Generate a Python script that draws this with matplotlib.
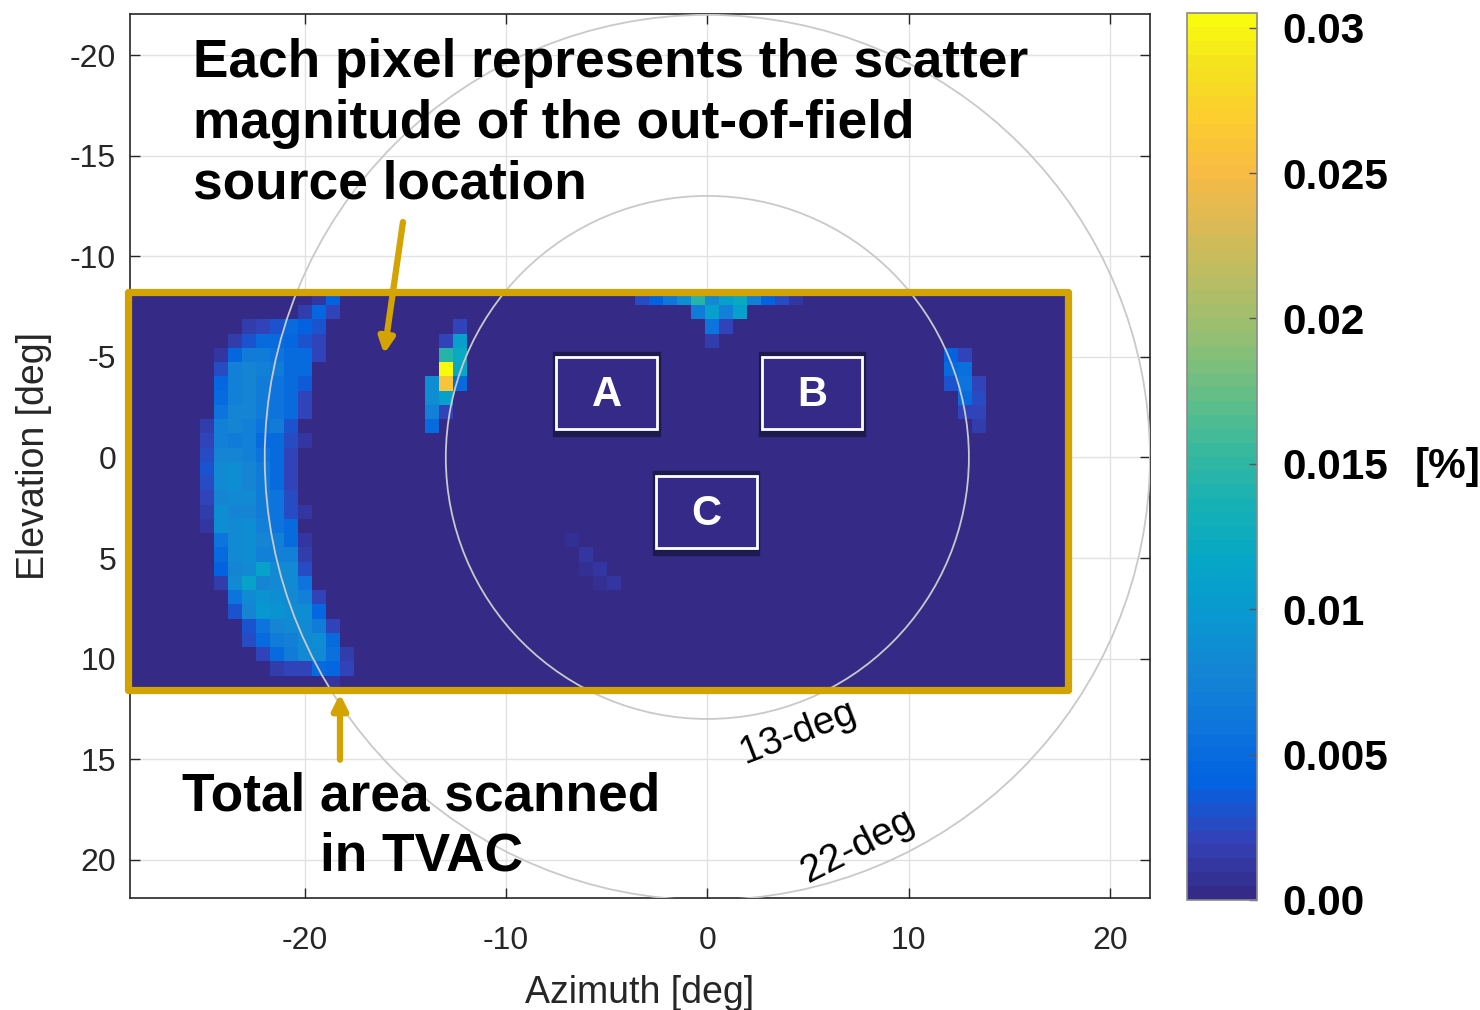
import numpy as np
import matplotlib.pyplot as plt
from matplotlib.colors import LinearSegmentedColormap
from matplotlib.patches import Rectangle, Circle

plt.rcParams['font.family'] = ['Liberation Sans', 'DejaVu Sans']
plt.rcParams['axes.unicode_minus'] = False

# scan grid: azimuth columns x elevation rows [deg]
n_cols, n_rows = 67, 28
az_lo, az_hi = -28.7, 18.0
el_lo, el_hi = -8.26, 11.54

# scatter patches: (row, first column, values [%])
crescent = [
    (0, 13, [0.001, 0.004]),
    (1, 12, [0.0015, 0.0045, 0.002]),
    (2, 8, [0.0015, 0.002, 0.003, 0.005, 0.004, 0.003]),
    (3, 7, [0.0015, 0.003, 0.005, 0.005, 0.0045, 0.003, 0.002]),
    (4, 6, [0.001, 0.0045, 0.007, 0.007, 0.006, 0.005, 0.005, 0.002]),
    (5, 6, [0.0025, 0.0075, 0.008, 0.0075, 0.007, 0.005, 0.005]),
    (6, 6, [0.0045, 0.0075, 0.008, 0.007, 0.006, 0.005, 0.0035]),
    (7, 6, [0.005, 0.0075, 0.008, 0.007, 0.006, 0.005, 0.002]),
    (8, 6, [0.006, 0.008, 0.008, 0.007, 0.006, 0.005, 0.002]),
    (9, 5, [0.0015, 0.0075, 0.008, 0.0075, 0.006, 0.007, 0.003]),
    (10, 5, [0.002, 0.0075, 0.007, 0.0075, 0.005, 0.005, 0.0025, 0.001]),
    (11, 5, [0.0025, 0.008, 0.008, 0.0075, 0.006, 0.005, 0.002]),
    (12, 5, [0.003, 0.0085, 0.009, 0.008, 0.007, 0.005, 0.002]),
    (13, 5, [0.0025, 0.0085, 0.009, 0.008, 0.007, 0.005, 0.002]),
    (14, 5, [0.002, 0.008, 0.0085, 0.0085, 0.007, 0.006, 0.0025]),
    (15, 5, [0.0015, 0.009, 0.008, 0.008, 0.007, 0.006, 0.0025, 0.001]),
    (16, 5, [0.001, 0.009, 0.0085, 0.009, 0.0075, 0.006, 0.005]),
    (17, 6, [0.006, 0.0085, 0.009, 0.008, 0.0075, 0.005, 0.001]),
    (18, 6, [0.005, 0.0085, 0.009, 0.0075, 0.0075, 0.0075, 0.0015]),
    (19, 6, [0.004, 0.008, 0.0085, 0.011, 0.0085, 0.0085, 0.0025]),
    (20, 6, [0.0015, 0.0085, 0.011, 0.008, 0.0085, 0.0085, 0.006]),
    (21, 7, [0.006, 0.0085, 0.0095, 0.009, 0.0085, 0.0075, 0.002]),
    (22, 7, [0.003, 0.008, 0.010, 0.0095, 0.009, 0.009, 0.0045]),
    (23, 8, [0.003, 0.006, 0.008, 0.0085, 0.0085, 0.007, 0.002]),
    (24, 8, [0.0025, 0.005, 0.007, 0.0075, 0.0085, 0.009, 0.005]),
    (25, 9, [0.002, 0.005, 0.007, 0.0085, 0.0085, 0.0055, 0.0015]),
    (26, 10, [0.0015, 0.002, 0.002, 0.005, 0.0045, 0.002]),
    (27, 14, [0.001]),
]
hot_spot = [
    (2, 23, [0.002]),
    (3, 22, [0.002, 0.0105]),
    (4, 22, [0.0145, 0.012]),
    (5, 22, [0.0305, 0.0115]),
    (6, 21, [0.009, 0.026, 0.005]),
    (7, 21, [0.009, 0.0105]),
    (8, 21, [0.0075, 0.002]),
    (9, 21, [0.005]),
]
top_patch = [
    (0, 36, [0.0025, 0.004, 0.0065, 0.009, 0.0145, 0.0085, 0.0105, 0.012, 0.0075, 0.004, 0.0025, 0.001]),
    (1, 40, [0.007, 0.0105, 0.0075, 0.0105]),
    (2, 41, [0.006, 0.002]),
    (3, 41, [0.0015]),
]
right_patch = [
    (4, 58, [0.004, 0.002]),
    (5, 58, [0.005, 0.0055]),
    (6, 58, [0.003, 0.006, 0.002]),
    (7, 59, [0.005, 0.0025]),
    (8, 59, [0.002, 0.0022]),
    (9, 60, [0.0015]),
]
streak = [
    (17, 31, [0.0008]),
    (18, 32, [0.001]),
    (19, 32, [0.0008, 0.001]),
    (20, 33, [0.0008, 0.001]),
]

cb_ticks = [0, 0.005, 0.01, 0.015, 0.02, 0.025, 0.03]
cb_labels = ['0.00', '0.005', '0.01', '0.015', '0.02', '0.025', '0.03']
ticks = [-20, -15, -10, -5, 0, 5, 10, 15, 20]

# parula (MATLAB) sampled
parula_idx = [0, 4, 8, 12, 16, 20, 24, 28, 32, 36, 40, 44, 48, 52, 56, 60, 63]
parula_rgb = [
    (0.2081, 0.1663, 0.5292), (0.1959, 0.2645, 0.7279), (0.0117, 0.3875, 0.8820),
    (0.0498, 0.4586, 0.8641), (0.0793, 0.5200, 0.8312), (0.0343, 0.5966, 0.8199),
    (0.0228, 0.6535, 0.7768), (0.0843, 0.6928, 0.7062), (0.2178, 0.7250, 0.6193),
    (0.3953, 0.7459, 0.5244), (0.5709, 0.7485, 0.4494), (0.7184, 0.7411, 0.3905),
    (0.8507, 0.7299, 0.3360), (0.9739, 0.7314, 0.2666), (0.9880, 0.8066, 0.1794),
    (0.9589, 0.8949, 0.1132), (0.9763, 0.9831, 0.0538),
]
parula = LinearSegmentedColormap.from_list(
    'parula', [(i / 63, c) for i, c in zip(parula_idx, parula_rgb)], N=64)

scatter = np.zeros((n_rows, n_cols))
for patch in (crescent, hot_spot, top_patch, right_patch, streak):
    for row, col, vals in patch:
        scatter[row, col:col + len(vals)] = vals

gold = '#d3a300'
ink = '#262626'

fig = plt.figure(figsize=(14.8, 10.1), dpi=100)
ax = fig.add_axes([0.0878, 0.1109, 0.6892, 0.8752])

im = ax.imshow(scatter, cmap=parula, vmin=0, vmax=0.0305,
               extent=(az_lo, az_hi, el_hi, el_lo), interpolation='nearest',
               aspect='auto', zorder=1)

for r in (13, 22):
    ax.add_patch(Circle((0, 0), r, fill=False, ec='#c9c9c9', lw=1.3, zorder=3))

ax.add_patch(Rectangle((-28.8, -8.22), 46.75, 19.77, fill=False, ec=gold, lw=5.2,
                       joinstyle='round', clip_on=False, zorder=6))

# field boxes A, B, C
for name, x0, y0 in [('A', -7.5, -5.0), ('B', 2.7, -5.0), ('C', -2.55, 0.92)]:
    w, h = 5.0, 3.58
    ax.add_patch(Rectangle((x0 - 0.15, y0 - 0.25), w + 0.28, h + 0.6,
                           fc='#1d1a4d', ec='#1d1a4d', lw=1, zorder=4))
    ax.add_patch(Rectangle((x0, y0), w, h, fc='#352a87', ec='white', lw=2, zorder=5))
    ax.text(x0 + w / 2, y0 + h / 2 + 0.1, name, color='white', fontsize=30,
            fontweight='bold', ha='center', va='center', zorder=6)

ax.set_xlim(-28.7, 22.0)
ax.set_ylim(21.9, -22.04)
ax.set_xticks(ticks[::2])
ax.set_yticks(ticks)
ax.grid(True, color='#e2e2e2', lw=1)
ax.set_axisbelow(True)
ax.tick_params(direction='in', length=7, top=True, right=True, width=1,
               color=ink, labelcolor=ink, labelsize=23)
ax.tick_params(axis='x', pad=20)
ax.tick_params(axis='y', pad=10)
for s in ax.spines.values():
    s.set_color(ink)
    s.set_linewidth(1.2)
ax.set_xlabel('Azimuth [deg]', fontsize=27, color=ink, labelpad=14)
ax.set_ylabel('Elevation [deg]', fontsize=27, color=ink, labelpad=13)

ax.text(4.5, 13.69, '13-deg', fontsize=28, rotation=21, ha='center', va='center',
        color='black', zorder=7)
ax.text(7.48, 19.35, '22-deg', fontsize=28, rotation=27, ha='center', va='center',
        color='black', zorder=7)

ax.text(-25.57, -20.85, 'Each pixel represents the scatter\nmagnitude of the out-of-field\nsource location',
        fontsize=38.3, fontweight='bold', ha='left', va='top', linespacing=1.27,
        zorder=7, clip_on=False)
ax.text(-14.22, 15.6, 'Total area scanned\nin TVAC', fontsize=38.3, fontweight='bold',
        ha='center', va='top', multialignment='center', linespacing=1.27, zorder=7)

arrow = dict(arrowstyle='-|>,head_length=0.9,head_width=0.45', lw=4.5, color=gold,
             shrinkA=0, shrinkB=0)
ax.annotate('', xy=(-16.07, -5.14), xytext=(-15.13, -11.7), arrowprops=arrow, zorder=8)
ax.annotate('', xy=(-18.26, 11.75), xytext=(-18.26, 15.03), arrowprops=arrow, zorder=8)

cax = fig.add_axes([0.802, 0.109, 0.0473, 0.878])
cb = fig.colorbar(im, cax=cax, ticks=cb_ticks)
cb.ax.set_yticklabels(cb_labels, fontweight='bold', fontsize=30.5)
cb.ax.tick_params(direction='in', length=6, width=1, pad=18, color='#555555')
cb.outline.set_edgecolor('#8a8a8a')
cb.outline.set_linewidth(1.2)
fig.text(1415 / 1480, 1 - 467 / 1010, '[%]', fontsize=30.5, fontweight='bold',
         ha='left', va='center')

fig.savefig('out.png', dpi=100)
